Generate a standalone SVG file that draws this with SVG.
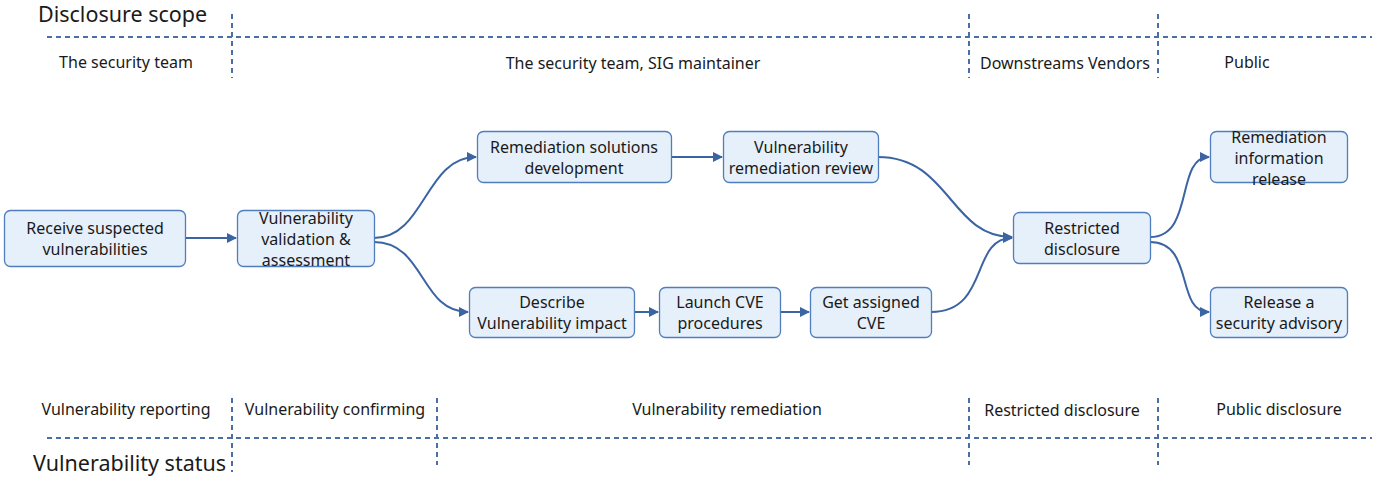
<svg xmlns="http://www.w3.org/2000/svg" width="1378" height="484" viewBox="0 0 1378 484">
<defs>
<marker id="arr" viewBox="0 0 10 10" refX="9" refY="5" markerWidth="5" markerHeight="5" orient="auto" markerUnits="strokeWidth">
<path d="M0,0 L10,5 L0,10 z" fill="#3B64A2"/>
</marker>
<style>
.t{font-family:"Noto Sans","Open Sans","Liberation Sans",sans-serif;font-size:16px;fill:#1a1a1a;text-anchor:middle}
.h{font-family:"Noto Sans","Open Sans","Liberation Sans",sans-serif;font-size:21.5px;fill:#1a1a1a}
.d{stroke:#4A6FA5;stroke-width:2;stroke-dasharray:5 4;fill:none}
.n rect{fill:#E6F0FB;stroke:#4F7DBE;stroke-width:1.3}
.c path{stroke:#3B64A2;stroke-width:2;fill:none;marker-end:url(#arr)}
</style>
</defs>
<rect width="1378" height="484" fill="#fff"/>
<g id="scope">
<text class="h" x="38" y="22">Disclosure scope</text>
<line class="d" x1="47" y1="37" x2="1372" y2="37"/>
<line class="d" x1="232" y1="14" x2="232" y2="78"/>
<line class="d" x1="969" y1="14" x2="969" y2="78"/>
<line class="d" x1="1158" y1="14" x2="1158" y2="78"/>
<text class="t" x="126" y="68">The security team</text>
<text class="t" x="633" y="69">The security team, SIG maintainer</text>
<text class="t" x="1065" y="69">Downstreams Vendors</text>
<text class="t" x="1247" y="68">Public</text>
</g>
<g id="status">
<line class="d" x1="47" y1="438" x2="1372" y2="438"/>
<line class="d" x1="232" y1="398" x2="232" y2="472"/>
<line class="d" x1="437" y1="398" x2="437" y2="465"/>
<line class="d" x1="969" y1="398" x2="969" y2="465"/>
<line class="d" x1="1158" y1="398" x2="1158" y2="465"/>
<text class="t" x="126" y="415">Vulnerability reporting</text>
<text class="t" x="335" y="415">Vulnerability confirming</text>
<text class="t" x="727" y="415">Vulnerability remediation</text>
<text class="t" x="1062" y="416">Restricted disclosure</text>
<text class="t" x="1279" y="415">Public disclosure</text>
<text class="h" x="33" y="471">Vulnerability status</text>
</g>
<g id="connectors" class="c">
<path d="M185,238 L236,238"/>
<path d="M374,238 C425,238 425,157 476,157"/>
<path d="M374,242 C425,242 420,312 468,312"/>
<path d="M671,157 L722,157"/>
<path d="M634,312 L658,312"/>
<path d="M780,312 L809,312"/>
<path d="M878,157 C950,157 950,237 1012,237"/>
<path d="M931,312 C990,312 970,238 1012,238"/>
<path d="M1150,237 C1195,237 1175,157 1209,157"/>
<path d="M1150,242 C1195,242 1175,312 1209,312"/>
</g>
<g id="n1" class="n"><rect x="4.5" y="210.5" width="181" height="56" rx="6"/><text class="t" x="95" y="234">Receive suspected</text><text class="t" x="95" y="255">vulnerabilities</text></g>
<g id="n2" class="n"><rect x="237.5" y="210.5" width="137" height="56" rx="6"/><text class="t" x="306" y="224">Vulnerability</text><text class="t" x="306" y="245">validation &amp;</text><text class="t" x="306" y="266">assessment</text></g>
<g id="n3" class="n"><rect x="477.5" y="131.5" width="194" height="51" rx="6"/><text class="t" x="574" y="153">Remediation solutions</text><text class="t" x="574" y="174">development</text></g>
<g id="n4" class="n"><rect x="723.5" y="131.5" width="155" height="51" rx="6"/><text class="t" x="801" y="153">Vulnerability</text><text class="t" x="801" y="174">remediation review</text></g>
<g id="n5" class="n"><rect x="469.5" y="287.5" width="165" height="50" rx="6"/><text class="t" x="552" y="308">Describe</text><text class="t" x="552" y="329">Vulnerability impact</text></g>
<g id="n6" class="n"><rect x="659.5" y="287.5" width="121" height="50" rx="6"/><text class="t" x="720" y="308">Launch CVE</text><text class="t" x="720" y="329">procedures</text></g>
<g id="n7" class="n"><rect x="810.5" y="287.5" width="121" height="50" rx="6"/><text class="t" x="871" y="308">Get assigned</text><text class="t" x="871" y="329">CVE</text></g>
<g id="n8" class="n"><rect x="1013.5" y="212.5" width="137" height="51" rx="6"/><text class="t" x="1082" y="234">Restricted</text><text class="t" x="1082" y="255">disclosure</text></g>
<g id="n9" class="n"><rect x="1210.5" y="131.5" width="137" height="51" rx="6"/><text class="t" x="1279" y="143">Remediation</text><text class="t" x="1279" y="164">information</text><text class="t" x="1279" y="185">release</text></g>
<g id="n10" class="n"><rect x="1210.5" y="287.5" width="137" height="50" rx="6"/><text class="t" x="1279" y="308">Release a</text><text class="t" x="1279" y="329">security advisory</text></g>
</svg>
